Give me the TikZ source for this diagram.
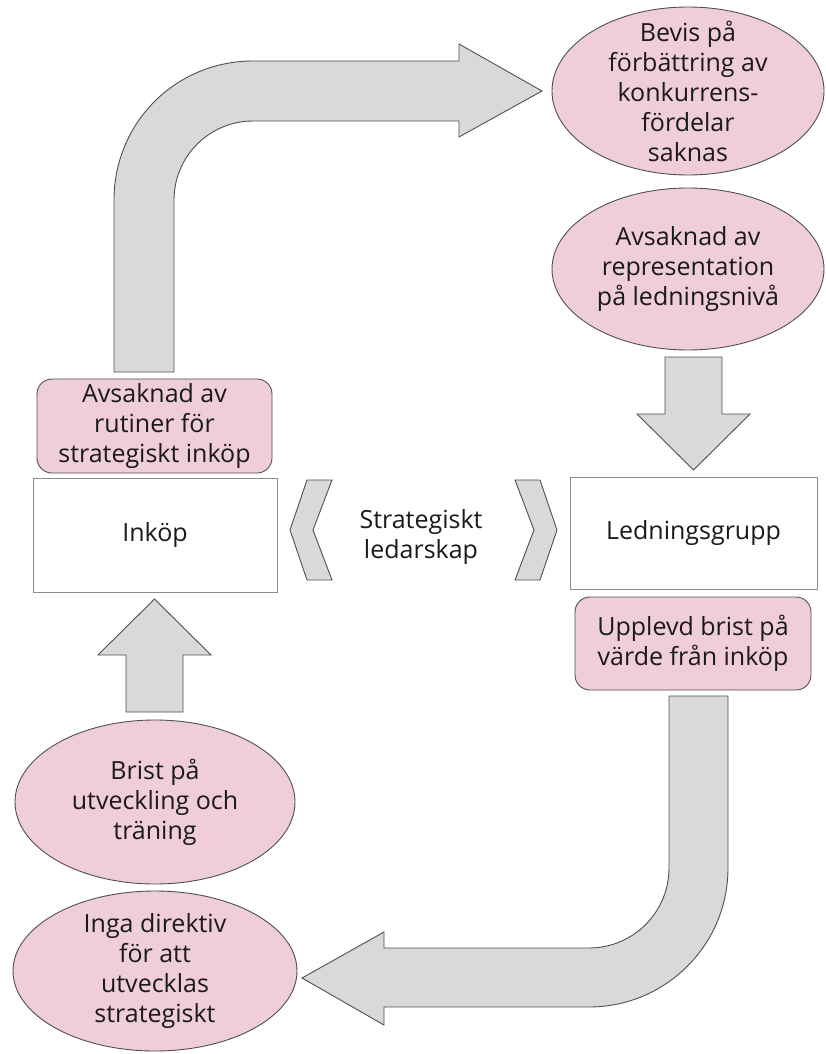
\documentclass[tikz,border=0pt]{standalone}
\usepackage{fontspec}
\setmainfont{Open Sans}
\usetikzlibrary{shapes.geometric}
\definecolor{pinkfill}{HTML}{EFCDDA}
\definecolor{grayfill}{HTML}{D9D9D9}
\definecolor{edgec}{HTML}{505050}
\definecolor{boxedge}{HTML}{8C8C8C}
\definecolor{txtc}{HTML}{1A1A1A}
\begin{document}
\begin{tikzpicture}[x=1pt,y=-1pt,
  lbl/.style={align=center, font=\fontsize{25}{30}\selectfont, text=txtc, inner sep=0pt},
  pinkell/.style={ellipse, draw=edgec, fill=pinkfill, line width=0.9pt, inner sep=0pt},
  pinkbox/.style={rectangle, rounded corners=15pt, draw=edgec, fill=pinkfill, line width=0.9pt, inner sep=0pt, align=center, font=\fontsize{25}{30}\selectfont, text=txtc},
  whitebox/.style={rectangle, draw=boxedge, fill=white, line width=0.9pt, inner sep=0pt, align=center, font=\fontsize{25}{30}\selectfont, text=txtc},
  blockarrow/.style={draw=edgec, fill=grayfill, line width=0.9pt, line join=miter},
  chev/.style={draw=edgec, fill=grayfill, line width=0.9pt, line join=miter}]
\useasboundingbox[fill=white] (0,0) rectangle (826,1054);

% top curved arrow
\draw[blockarrow] (114,372) -- (114,200) .. controls (114,123.2) and (175.2,61) .. (253,61)
  -- (459,61) -- (459,44) -- (542,91) -- (459,137) -- (459,121) -- (253,121)
  .. controls (209.4,121) and (174,156.4) .. (174,200) -- (174,372) -- cycle;

% bottom curved arrow
\draw[blockarrow] (669,696) -- (728,696) -- (728,868) .. controls (728,944.8) and (665.8,1007) .. (589,1007)
  -- (384,1007) -- (384,1025) -- (302,978) -- (384,932) -- (384,948) -- (589,948)
  .. controls (633.2,948) and (669,912.2) .. (669,868) -- cycle;

% down arrow
\draw[blockarrow] (665,357) -- (722,357) -- (722,414) -- (750,414) -- (693.5,470) -- (637,414) -- (665,414) -- cycle;
% up arrow
\draw[blockarrow] (126,712) -- (126,655) -- (98,655) -- (154.5,599) -- (211,655) -- (183,655) -- (183,712) -- cycle;

% chevrons
\draw[chev] (307,480) -- (332,480) -- (313,530) -- (332,580) -- (307,580) -- (290,530) -- cycle;
\draw[chev] (515,480) -- (540,480) -- (557,530) -- (540,580) -- (515,580) -- (534,530) -- cycle;
\node[lbl] (strat) at (421,537) {Strategiskt\\ledarskap};

% boxes
\node[pinkbox, minimum width=235pt, minimum height=94pt] (rutiner) at (154.5,426) {Avsaknad av\\rutiner för\\strategiskt inköp};
\node[whitebox, minimum width=244pt, minimum height=114pt] (inkop) at (155,535) {Inköp};
\node[whitebox, minimum width=247pt, minimum height=112pt] (ledning) at (693.5,533) {Ledningsgrupp};
\node[pinkbox, minimum width=236pt, minimum height=93pt] (upplevd) at (693,643.5) {Upplevd brist på\\värde från inköp};

% ellipses
\node[pinkell, minimum width=272pt, minimum height=168pt] (bevis) at (688,91) {};
\node[lbl] (bevistxt) at (bevis) {Bevis på\\förbättring av\\konkurrens-\\fördelar\\saknas};
\node[pinkell, minimum width=272pt, minimum height=162pt] (repr) at (688,269) {};
\node[lbl] (reprtxt) at (repr) {Avsaknad av\\representation\\på ledningsnivå};
\node[pinkell, minimum width=280pt, minimum height=164pt] (brist) at (155,802) {};
\node[lbl] (bristtxt) at (brist) {Brist på\\utveckling och\\träning};
\node[pinkell, minimum width=284pt, minimum height=160pt] (inga) at (155,971) {};
\node[lbl] (ingatxt) at (inga) {Inga direktiv\\för att\\utvecklas\\strategiskt};
\end{tikzpicture}
\end{document}
